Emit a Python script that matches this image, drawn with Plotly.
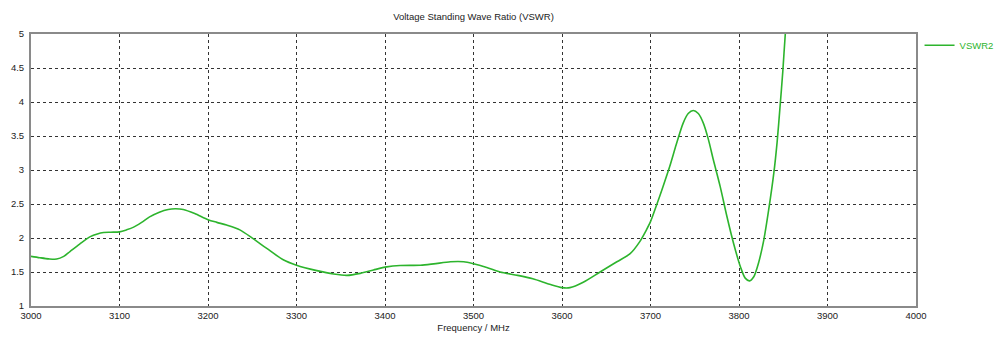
import plotly.graph_objects as go

# Frequency (MHz) and VSWR values
freq_mhz = [3000, 3010, 3020, 3029, 3037, 3044, 3055, 3067, 3075, 3082, 3090, 3100,
            3108, 3116, 3125, 3134, 3145, 3155, 3163, 3172, 3185, 3200, 3210, 3221,
            3236, 3251, 3266, 3285, 3300, 3323, 3342, 3357, 3372, 3387, 3402, 3417,
            3440, 3455, 3474, 3489, 3500, 3515, 3530, 3550, 3567, 3586, 3600, 3609,
            3624, 3643, 3662, 3677, 3687.5, 3695, 3700, 3706.5, 3714, 3721.7, 3729,
            3736.9, 3742.6, 3748.3, 3754, 3759.7, 3765.4, 3771, 3778.7, 3786.3,
            3793.9, 3801.5, 3807, 3812, 3816.7, 3822, 3828, 3833.6, 3839.4, 3843,
            3846.5, 3849.5, 3852.3, 3855]
vswr = [1.73, 1.71, 1.693, 1.69, 1.73, 1.80, 1.91, 2.02, 2.06, 2.08, 2.085, 2.09,
        2.12, 2.16, 2.23, 2.31, 2.38, 2.42, 2.43, 2.42, 2.36, 2.27, 2.23, 2.19,
        2.12, 1.99, 1.85, 1.68, 1.60, 1.52, 1.47, 1.45, 1.48, 1.53, 1.575, 1.595,
        1.60, 1.62, 1.65, 1.65, 1.62, 1.565, 1.50, 1.45, 1.40, 1.32, 1.27, 1.27,
        1.35, 1.50, 1.65, 1.77, 1.94, 2.11, 2.24, 2.47, 2.75, 3.05, 3.37,
        3.69, 3.83, 3.875, 3.83, 3.69, 3.45, 3.15, 2.76, 2.32,
        1.92, 1.58, 1.41, 1.37, 1.43, 1.63, 1.97, 2.42, 2.96, 3.40,
        3.95, 4.45, 5.00, 5.40]

x_ticks = [3000, 3100, 3200, 3300, 3400, 3500, 3600, 3700, 3800, 3900, 4000]
y_ticks = [1, 1.5, 2, 2.5, 3, 3.5, 4, 4.5, 5]

title_text = "Voltage Standing Wave Ratio (VSWR)"
x_title = "Frequency / MHz"
series_name = "VSWR2"
green = "rgb(45,180,45)"
font_family = "Liberation Sans, Arial, sans-serif"

fig = go.Figure()
fig.add_trace(go.Scatter(x=freq_mhz, y=vswr, mode="lines", name=series_name,
                         line=dict(color=green, width=1.6, shape="spline", smoothing=0.8)))

fig.update_layout(
    width=1000, height=341,
    margin=dict(l=31, r=84.4, t=34, b=35.3, autoexpand=False),
    paper_bgcolor="white", plot_bgcolor="white",
    font=dict(family=font_family, size=9, color="#222"),
    title=dict(text=title_text, x=0.5, xref="paper", xanchor="center",
               y=1 - 17 / 341, yref="container", yanchor="middle",
               font=dict(size=9.5, color="#222")),
    showlegend=True,
    legend=dict(x=1.004, xanchor="left", y=1.012, yanchor="top",
                font=dict(color=green, size=9.5), bgcolor="rgba(0,0,0,0)",
                itemwidth=30),
)
fig.update_xaxes(range=[3000, 4000], tickvals=x_ticks, ticktext=[str(v) for v in x_ticks],
                 showgrid=True, gridcolor="#333", griddash="dot", gridwidth=1,
                 showline=True, linecolor="#8a8a8a", linewidth=2, mirror=True,
                 zeroline=False, ticks="", tickfont=dict(size=9.5),
                 title=dict(text=x_title, standoff=4, font=dict(size=9.5)))
fig.update_yaxes(range=[1, 5], tickvals=y_ticks,
                 ticktext=[("%g" % v) for v in y_ticks],
                 showgrid=True, gridcolor="#333", griddash="dot", gridwidth=1,
                 showline=True, linecolor="#8a8a8a", linewidth=2, mirror=True,
                 zeroline=False, ticks="", tickfont=dict(size=9.5), ticklabelstandoff=3)

fig.write_html("out.html")
